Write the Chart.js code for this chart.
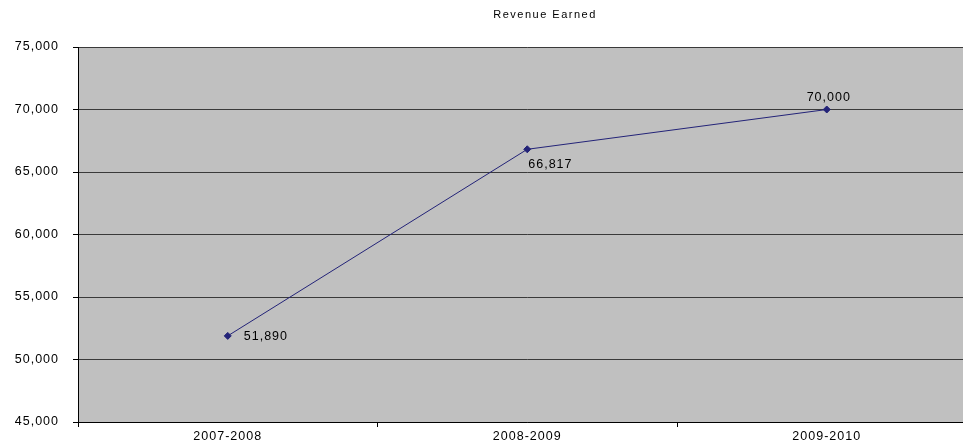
<!DOCTYPE html>
<html>
<head>
<meta charset="utf-8">
<script src="https://cdn.jsdelivr.net/npm/chart.js@4"></script>
<style>
  html, body { margin: 0; padding: 0; background: #fff; overflow: hidden; }
  #wrap { width: 963px; height: 442px; overflow: hidden; }
  #wrap div { width: 981px; height: 442px; position: relative; }
</style>
</head>
<body>
<div id="wrap"><div><canvas id="revenueChart"></canvas></div></div>
<script>
// chart data
const years = ['2007-2008', '2008-2009', '2009-2010'];
const revenue = [51890, 66817, 70000];
const yTicks = [45000, 50000, 55000, 60000, 65000, 70000, 75000];

// where each value label sits relative to its point
const labelPlacement = ['right', 'below', 'above'];

const fmt = v => v.toLocaleString('en-US');
const FONT = '"Liberation Sans", Arial, sans-serif';

// grey plot area like the old Excel chart, plus the wide Excel-ish text spacing
const plotBackground = {
    id: 'plotBackground',
    beforeDraw(chart) {
        const { ctx, chartArea: a } = chart;
        ctx.letterSpacing = '1px';
        ctx.save();
        ctx.fillStyle = '#c0c0c0';
        ctx.fillRect(a.left, a.top, a.right - a.left, a.bottom - a.top);
        ctx.restore();
    }
};

// title + value labels
const textLayer = {
    id: 'textLayer',
    afterDatasetsDraw(chart) {
        const ctx = chart.ctx;
        ctx.save();
        ctx.fillStyle = '#000';
        ctx.letterSpacing = '1.5px';
        ctx.font = '11px ' + FONT;
        ctx.textAlign = 'center';
        ctx.textBaseline = 'middle';
        ctx.fillText('Revenue Earned', 545, 15);

        ctx.letterSpacing = '1px';
        ctx.font = '12.5px ' + FONT;
        const meta = chart.getDatasetMeta(0);
        meta.data.forEach((pt, i) => {
            const text = fmt(revenue[i]);
            const pos = labelPlacement[i];
            if (pos === 'right') {
                ctx.textAlign = 'left';
                ctx.fillText(text, pt.x + 16, pt.y + 1);
            } else if (pos === 'below') {
                ctx.textAlign = 'left';
                ctx.fillText(text, pt.x + 1, pt.y + 15);
            } else {
                ctx.textAlign = 'center';
                ctx.fillText(text, pt.x + 2, pt.y - 12);
            }
        });
        ctx.restore();
    }
};

new Chart(document.getElementById('revenueChart'), {
    type: 'line',
    data: {
        labels: years,
        datasets: [{
            data: revenue,
            borderColor: '#232378',
            backgroundColor: '#232378',
            borderWidth: 1,
            pointStyle: 'rectRot',
            pointRadius: 3.5,
            pointHoverRadius: 3.5,
            tension: 0
        }]
    },
    options: {
        responsive: true,
        maintainAspectRatio: false,
        animation: false,
        layout: { padding: { top: 47, right: 0, left: 0, bottom: 0 } },
        plugins: {
            legend: { display: false },
            tooltip: { enabled: false },
            title: { display: false }
        },
        scales: {
            x: {
                offset: true,
                afterFit: s => { s.height = 20; },
                grid: {
                    offset: true,
                    drawOnChartArea: false,
                    drawTicks: true,
                    tickLength: 5,
                    color: '#000'
                },
                border: { color: '#000', width: 1 },
                ticks: {
                    color: '#000',
                    padding: 2,
                    font: { family: FONT, size: 12.5 }
                }
            },
            y: {
                min: 45000,
                max: 75000,
                afterFit: s => {
                    s.width = 78;
                    s.paddingTop = 0;
                    s.paddingBottom = 0;
                },
                afterBuildTicks: s => { s.ticks = yTicks.map(v => ({ value: v })); },
                grid: {
                    color: '#3a3a3a',
                    tickLength: 5,
                    tickColor: '#000'
                },
                border: { color: '#000', width: 1 },
                ticks: {
                    color: '#000',
                    padding: 14,
                    font: { family: FONT, size: 12.5 },
                    callback: v => fmt(v)
                }
            }
        }
    },
    plugins: [plotBackground, textLayer]
});
</script>
</body>
</html>
